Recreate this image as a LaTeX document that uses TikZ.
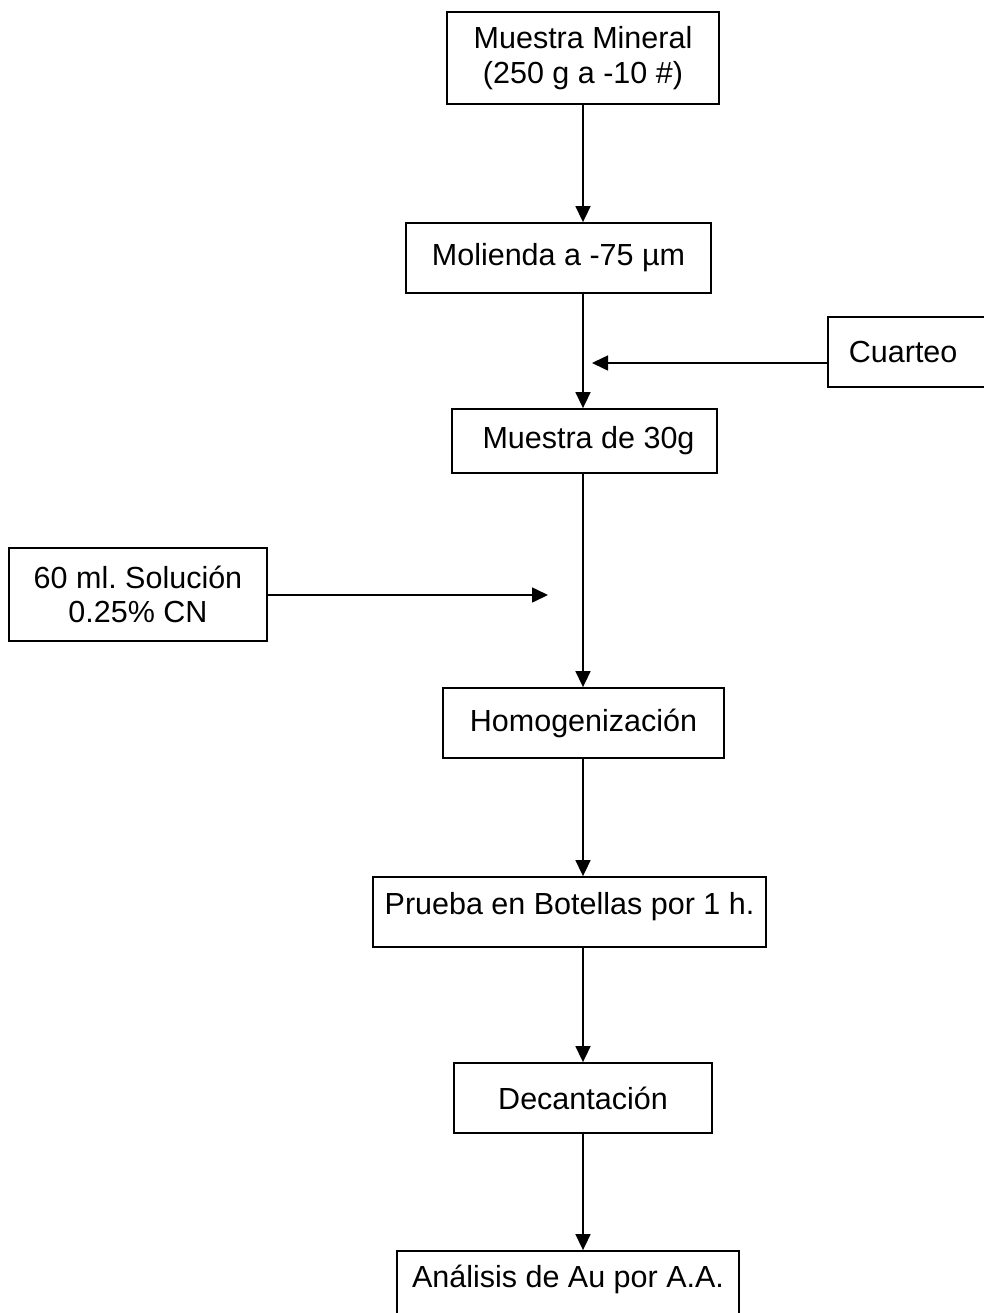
\documentclass[tikz,border=0pt]{standalone}
\usepackage{fontspec}
\setmainfont{Liberation Sans}
\usetikzlibrary{arrows.meta}
\frenchspacing
\begin{document}
\begin{tikzpicture}[x=1pt,y=-1pt,
  box/.style={draw=black, line width=1.8pt, inner sep=0pt, align=center,
    font=\fontsize{30.5}{34.5}\selectfont},
  arr/.style={draw=black, line width=1.6pt, -{Triangle[length=16pt,width=15pt]}}]
\useasboundingbox (0,0) rectangle (983,1313);
\node[box, minimum width=272pt, minimum height=92pt] (m1) at (583,58) {Muestra Mineral\\(250 g a -10 \#)};
\node[box, minimum width=305pt, minimum height=70pt] (mol) at (558.5,258) {Molienda a -75 µm};
\node[box, anchor=west, text width=150pt, align=left, inner xsep=21pt, minimum height=70pt] (cua) at (827,352) {Cuarteo};
\node[box, minimum width=265pt, minimum height=64pt] (m30) at (584.5,441) {\hspace*{8pt}Muestra de 30g};
\node[box, minimum width=258pt, minimum height=93pt] (sol) at (138,594.5) {60 ml. Solución\\0.25\% CN};
\node[box, minimum width=281pt, minimum height=70pt] (hom) at (583.5,723) {Homogenización};
\node[box, minimum width=393pt, minimum height=70pt, text depth=18pt] (pru) at (569.5,912) {Prueba en Botellas por 1 h.};
\node[box, minimum width=258pt, minimum height=70pt] (dec) at (583,1098) {Decantación};
\node[box, minimum width=342pt, minimum height=69pt, text depth=18pt] (ana) at (568,1285.5) {Análisis de Au por A.A.};
\coordinate (cuaend) at (592,363);
\coordinate (solend) at (548,595);
\draw[arr] (m1.south) -- (m1.south |- mol.north);
\draw[arr] (m1.south |- mol.south) -- (m1.south |- m30.north);
\draw[arr] (cua.west |- cuaend) -- (cuaend);
\draw[arr] (sol.east |- solend) -- (solend);
\draw[arr] (m1.south |- m30.south) -- (m1.south |- hom.north);
\draw[arr] (m1.south |- hom.south) -- (m1.south |- pru.north);
\draw[arr] (m1.south |- pru.south) -- (m1.south |- dec.north);
\draw[arr] (m1.south |- dec.south) -- (m1.south |- ana.north);
\end{tikzpicture}
\end{document}
